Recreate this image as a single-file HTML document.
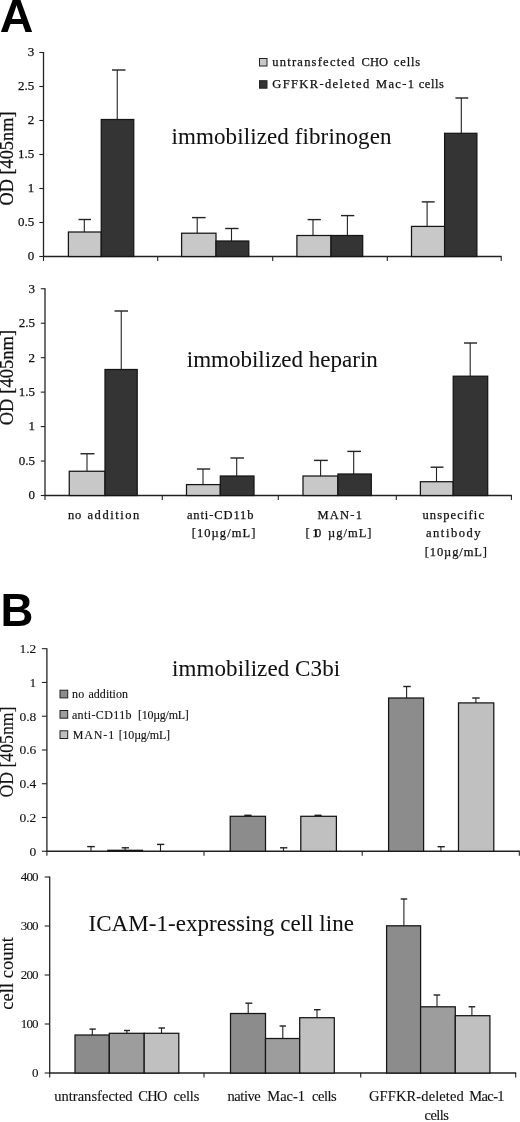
<!DOCTYPE html>
<html><head><meta charset="utf-8"><title>Figure</title>
<style>html,body{margin:0;padding:0;background:#fff}svg{display:block;filter:grayscale(1)}</style></head>
<body>
<svg width="520" height="1122" viewBox="0 0 520 1122">
<rect width="520" height="1122" fill="#fff"/>
<text x="-0.20" y="31.70" font-family='"Liberation Sans", sans-serif' font-size="46.5" font-weight="bold" text-anchor="start" fill="#000" stroke="#000" stroke-width="0">A</text>
<text x="0.50" y="626.00" font-family='"Liberation Sans", sans-serif' font-size="45.5" font-weight="bold" text-anchor="start" fill="#000" stroke="#000" stroke-width="0">B</text>
<line x1="43.50" y1="52.00" x2="43.50" y2="257.00" stroke="#222" stroke-width="1.3"/>
<line x1="43.00" y1="256.50" x2="501.70" y2="256.50" stroke="#222" stroke-width="1.3"/>
<line x1="39.30" y1="52.50" x2="43.50" y2="52.50" stroke="#222" stroke-width="1.1"/>
<text x="34.20" y="56.40" font-family='"Liberation Serif", serif' font-size="13" font-weight="normal" text-anchor="end" fill="#111" stroke="#111" stroke-width="0.25">3</text>
<line x1="39.30" y1="86.50" x2="43.50" y2="86.50" stroke="#222" stroke-width="1.1"/>
<text x="34.20" y="90.40" font-family='"Liberation Serif", serif' font-size="13" font-weight="normal" text-anchor="end" fill="#111" stroke="#111" stroke-width="0.25">2.5</text>
<line x1="39.30" y1="120.50" x2="43.50" y2="120.50" stroke="#222" stroke-width="1.1"/>
<text x="34.20" y="124.40" font-family='"Liberation Serif", serif' font-size="13" font-weight="normal" text-anchor="end" fill="#111" stroke="#111" stroke-width="0.25">2</text>
<line x1="39.30" y1="154.50" x2="43.50" y2="154.50" stroke="#222" stroke-width="1.1"/>
<text x="34.20" y="158.40" font-family='"Liberation Serif", serif' font-size="13" font-weight="normal" text-anchor="end" fill="#111" stroke="#111" stroke-width="0.25">1.5</text>
<line x1="39.30" y1="188.50" x2="43.50" y2="188.50" stroke="#222" stroke-width="1.1"/>
<text x="34.20" y="192.40" font-family='"Liberation Serif", serif' font-size="13" font-weight="normal" text-anchor="end" fill="#111" stroke="#111" stroke-width="0.25">1</text>
<line x1="39.30" y1="222.50" x2="43.50" y2="222.50" stroke="#222" stroke-width="1.1"/>
<text x="34.20" y="226.40" font-family='"Liberation Serif", serif' font-size="13" font-weight="normal" text-anchor="end" fill="#111" stroke="#111" stroke-width="0.25">0.5</text>
<line x1="39.30" y1="256.50" x2="43.50" y2="256.50" stroke="#222" stroke-width="1.1"/>
<text x="34.20" y="260.40" font-family='"Liberation Serif", serif' font-size="13" font-weight="normal" text-anchor="end" fill="#111" stroke="#111" stroke-width="0.25">0</text>
<line x1="43.50" y1="256.50" x2="43.50" y2="261.00" stroke="#222" stroke-width="1.1"/>
<line x1="157.70" y1="256.50" x2="157.70" y2="261.00" stroke="#222" stroke-width="1.1"/>
<line x1="272.70" y1="256.50" x2="272.70" y2="261.00" stroke="#222" stroke-width="1.1"/>
<line x1="387.30" y1="256.50" x2="387.30" y2="261.00" stroke="#222" stroke-width="1.1"/>
<line x1="501.20" y1="256.50" x2="501.20" y2="261.00" stroke="#222" stroke-width="1.1"/>
<line x1="84.30" y1="219.50" x2="84.30" y2="232.00" stroke="#222" stroke-width="1.1"/>
<line x1="78.50" y1="219.50" x2="91.00" y2="219.50" stroke="#222" stroke-width="1.4"/>
<rect x="68.40" y="232.00" width="32.85" height="24.50" fill="#c8c8c8" stroke="#151515" stroke-width="1.25"/>
<line x1="117.25" y1="70.00" x2="117.25" y2="119.50" stroke="#222" stroke-width="1.1"/>
<line x1="112.00" y1="70.00" x2="125.50" y2="70.00" stroke="#222" stroke-width="1.4"/>
<rect x="101.25" y="119.50" width="32.50" height="137.00" fill="#343434" stroke="#151515" stroke-width="1.25"/>
<line x1="197.20" y1="217.60" x2="197.20" y2="233.20" stroke="#222" stroke-width="1.1"/>
<line x1="192.00" y1="217.60" x2="205.60" y2="217.60" stroke="#222" stroke-width="1.4"/>
<rect x="181.60" y="233.20" width="34.40" height="23.30" fill="#c8c8c8" stroke="#151515" stroke-width="1.25"/>
<line x1="231.50" y1="228.50" x2="231.50" y2="241.00" stroke="#222" stroke-width="1.1"/>
<line x1="225.20" y1="228.50" x2="238.50" y2="228.50" stroke="#222" stroke-width="1.4"/>
<rect x="216.00" y="241.00" width="32.80" height="15.50" fill="#343434" stroke="#151515" stroke-width="1.25"/>
<line x1="313.00" y1="219.60" x2="313.00" y2="235.50" stroke="#222" stroke-width="1.1"/>
<line x1="307.60" y1="219.60" x2="320.90" y2="219.60" stroke="#222" stroke-width="1.4"/>
<rect x="296.90" y="235.50" width="34.10" height="21.00" fill="#c8c8c8" stroke="#151515" stroke-width="1.25"/>
<line x1="347.40" y1="215.60" x2="347.40" y2="235.50" stroke="#222" stroke-width="1.1"/>
<line x1="341.00" y1="215.60" x2="354.30" y2="215.60" stroke="#222" stroke-width="1.4"/>
<rect x="331.00" y="235.50" width="31.70" height="21.00" fill="#343434" stroke="#151515" stroke-width="1.25"/>
<line x1="427.10" y1="201.90" x2="427.10" y2="226.40" stroke="#222" stroke-width="1.1"/>
<line x1="421.70" y1="201.90" x2="434.70" y2="201.90" stroke="#222" stroke-width="1.4"/>
<rect x="411.50" y="226.40" width="33.10" height="30.10" fill="#c8c8c8" stroke="#151515" stroke-width="1.25"/>
<line x1="461.30" y1="98.00" x2="461.30" y2="133.30" stroke="#222" stroke-width="1.1"/>
<line x1="455.40" y1="98.00" x2="468.30" y2="98.00" stroke="#222" stroke-width="1.4"/>
<rect x="444.60" y="133.30" width="32.30" height="123.20" fill="#343434" stroke="#151515" stroke-width="1.25"/>
<text x="171.50" y="143.50" font-family='"Liberation Serif", serif' font-size="23" font-weight="normal" text-anchor="start" fill="#111" stroke="#111" stroke-width="0.05" textLength="220.0" lengthAdjust="spacing">immobilized fibrinogen</text>
<rect x="259.5" y="58.5" width="7.5" height="7.5" fill="#c8c8c8" stroke="#222" stroke-width="1"/>
<rect x="259.5" y="80.7" width="7.5" height="7.5" fill="#343434" stroke="#222" stroke-width="1"/>
<text x="272.30" y="65.90" font-family='"Liberation Serif", serif' font-size="12.5" font-weight="normal" text-anchor="start" fill="#111" stroke="#111" stroke-width="0.25" textLength="82.1" lengthAdjust="spacing">untransfected</text>
<text x="361.50" y="65.90" font-family='"Liberation Serif", serif' font-size="12.5" font-weight="normal" text-anchor="start" fill="#111" stroke="#111" stroke-width="0.25" textLength="26.5" lengthAdjust="spacing">CHO</text>
<text x="393.80" y="65.90" font-family='"Liberation Serif", serif' font-size="12.5" font-weight="normal" text-anchor="start" fill="#111" stroke="#111" stroke-width="0.25" textLength="26.4" lengthAdjust="spacing">cells</text>
<text x="272.30" y="87.70" font-family='"Liberation Serif", serif' font-size="12.5" font-weight="normal" text-anchor="start" fill="#111" stroke="#111" stroke-width="0.25" textLength="96.9" lengthAdjust="spacing">GFFKR-deleted</text>
<text x="376.00" y="87.70" font-family='"Liberation Serif", serif' font-size="12.5" font-weight="normal" text-anchor="start" fill="#111" stroke="#111" stroke-width="0.25" textLength="38.0" lengthAdjust="spacing">Mac-1</text>
<text x="418.80" y="87.70" font-family='"Liberation Serif", serif' font-size="12.5" font-weight="normal" text-anchor="start" fill="#111" stroke="#111" stroke-width="0.25" textLength="25.0" lengthAdjust="spacing">cells</text>
<text transform="translate(13.00,205.50) rotate(-90)" font-family='"Liberation Serif", serif' font-size="18.3" fill="#111" stroke="#111" stroke-width="0.25" textLength="94.0" lengthAdjust="spacing">OD [405nm]</text>
<line x1="45.00" y1="288.25" x2="45.00" y2="496.00" stroke="#222" stroke-width="1.3"/>
<line x1="44.50" y1="495.50" x2="511.90" y2="495.50" stroke="#222" stroke-width="1.3"/>
<line x1="40.80" y1="288.75" x2="45.00" y2="288.75" stroke="#222" stroke-width="1.1"/>
<text x="35.00" y="292.65" font-family='"Liberation Serif", serif' font-size="13" font-weight="normal" text-anchor="end" fill="#111" stroke="#111" stroke-width="0.25">3</text>
<line x1="40.80" y1="323.21" x2="45.00" y2="323.21" stroke="#222" stroke-width="1.1"/>
<text x="35.00" y="327.11" font-family='"Liberation Serif", serif' font-size="13" font-weight="normal" text-anchor="end" fill="#111" stroke="#111" stroke-width="0.25">2.5</text>
<line x1="40.80" y1="357.67" x2="45.00" y2="357.67" stroke="#222" stroke-width="1.1"/>
<text x="35.00" y="361.57" font-family='"Liberation Serif", serif' font-size="13" font-weight="normal" text-anchor="end" fill="#111" stroke="#111" stroke-width="0.25">2</text>
<line x1="40.80" y1="392.12" x2="45.00" y2="392.12" stroke="#222" stroke-width="1.1"/>
<text x="35.00" y="396.02" font-family='"Liberation Serif", serif' font-size="13" font-weight="normal" text-anchor="end" fill="#111" stroke="#111" stroke-width="0.25">1.5</text>
<line x1="40.80" y1="426.58" x2="45.00" y2="426.58" stroke="#222" stroke-width="1.1"/>
<text x="35.00" y="430.48" font-family='"Liberation Serif", serif' font-size="13" font-weight="normal" text-anchor="end" fill="#111" stroke="#111" stroke-width="0.25">1</text>
<line x1="40.80" y1="461.04" x2="45.00" y2="461.04" stroke="#222" stroke-width="1.1"/>
<text x="35.00" y="464.94" font-family='"Liberation Serif", serif' font-size="13" font-weight="normal" text-anchor="end" fill="#111" stroke="#111" stroke-width="0.25">0.5</text>
<line x1="40.80" y1="495.50" x2="45.00" y2="495.50" stroke="#222" stroke-width="1.1"/>
<text x="35.00" y="499.40" font-family='"Liberation Serif", serif' font-size="13" font-weight="normal" text-anchor="end" fill="#111" stroke="#111" stroke-width="0.25">0</text>
<line x1="45.00" y1="495.50" x2="45.00" y2="500.00" stroke="#222" stroke-width="1.1"/>
<line x1="162.30" y1="495.50" x2="162.30" y2="500.00" stroke="#222" stroke-width="1.1"/>
<line x1="278.30" y1="495.50" x2="278.30" y2="500.00" stroke="#222" stroke-width="1.1"/>
<line x1="396.30" y1="495.50" x2="396.30" y2="500.00" stroke="#222" stroke-width="1.1"/>
<line x1="511.40" y1="495.50" x2="511.40" y2="500.00" stroke="#222" stroke-width="1.1"/>
<line x1="87.00" y1="453.75" x2="87.00" y2="471.25" stroke="#222" stroke-width="1.1"/>
<line x1="80.50" y1="453.75" x2="94.50" y2="453.75" stroke="#222" stroke-width="1.4"/>
<rect x="69.25" y="471.25" width="35.75" height="24.25" fill="#c8c8c8" stroke="#151515" stroke-width="1.25"/>
<line x1="121.25" y1="311.00" x2="121.25" y2="369.50" stroke="#222" stroke-width="1.1"/>
<line x1="114.50" y1="311.00" x2="128.00" y2="311.00" stroke="#222" stroke-width="1.4"/>
<rect x="105.00" y="369.50" width="32.20" height="126.00" fill="#343434" stroke="#151515" stroke-width="1.25"/>
<line x1="203.00" y1="469.00" x2="203.00" y2="484.60" stroke="#222" stroke-width="1.1"/>
<line x1="196.90" y1="469.00" x2="210.20" y2="469.00" stroke="#222" stroke-width="1.4"/>
<rect x="186.50" y="484.60" width="33.80" height="10.90" fill="#c8c8c8" stroke="#151515" stroke-width="1.25"/>
<line x1="236.70" y1="458.00" x2="236.70" y2="476.00" stroke="#222" stroke-width="1.1"/>
<line x1="230.40" y1="458.00" x2="244.00" y2="458.00" stroke="#222" stroke-width="1.4"/>
<rect x="220.30" y="476.00" width="33.70" height="19.50" fill="#343434" stroke="#151515" stroke-width="1.25"/>
<line x1="320.60" y1="460.40" x2="320.60" y2="476.00" stroke="#222" stroke-width="1.1"/>
<line x1="314.00" y1="460.40" x2="327.80" y2="460.40" stroke="#222" stroke-width="1.4"/>
<rect x="303.00" y="476.00" width="34.90" height="19.50" fill="#c8c8c8" stroke="#151515" stroke-width="1.25"/>
<line x1="353.70" y1="451.40" x2="353.70" y2="474.00" stroke="#222" stroke-width="1.1"/>
<line x1="347.40" y1="451.40" x2="361.00" y2="451.40" stroke="#222" stroke-width="1.4"/>
<rect x="337.90" y="474.00" width="33.40" height="21.50" fill="#343434" stroke="#151515" stroke-width="1.25"/>
<line x1="436.50" y1="467.20" x2="436.50" y2="481.70" stroke="#222" stroke-width="1.1"/>
<line x1="430.60" y1="467.20" x2="443.50" y2="467.20" stroke="#222" stroke-width="1.4"/>
<rect x="420.40" y="481.70" width="32.80" height="13.80" fill="#c8c8c8" stroke="#151515" stroke-width="1.25"/>
<line x1="470.20" y1="343.00" x2="470.20" y2="376.20" stroke="#222" stroke-width="1.1"/>
<line x1="464.00" y1="343.00" x2="477.00" y2="343.00" stroke="#222" stroke-width="1.4"/>
<rect x="453.20" y="376.20" width="34.50" height="119.30" fill="#343434" stroke="#151515" stroke-width="1.25"/>
<text x="186.80" y="366.50" font-family='"Liberation Serif", serif' font-size="23" font-weight="normal" text-anchor="start" fill="#111" stroke="#111" stroke-width="0.05" textLength="191.0" lengthAdjust="spacing">immobilized heparin</text>
<text transform="translate(13.40,425.30) rotate(-90)" font-family='"Liberation Serif", serif' font-size="18.5" fill="#111" stroke="#111" stroke-width="0.25" textLength="95.5" lengthAdjust="spacing">OD [405nm]</text>
<text x="68.00" y="518.90" font-family='"Liberation Serif", serif' font-size="12.5" font-weight="normal" text-anchor="start" fill="#111" stroke="#111" stroke-width="0.25" textLength="13.2" lengthAdjust="spacing">no</text>
<text x="87.50" y="518.90" font-family='"Liberation Serif", serif' font-size="12.5" font-weight="normal" text-anchor="start" fill="#111" stroke="#111" stroke-width="0.25" textLength="51.8" lengthAdjust="spacing">addition</text>
<text x="186.90" y="518.90" font-family='"Liberation Serif", serif' font-size="12.5" font-weight="normal" text-anchor="start" fill="#111" stroke="#111" stroke-width="0.25" textLength="66.6" lengthAdjust="spacing">anti-CD11b</text>
<text x="191.80" y="537.40" font-family='"Liberation Serif", serif' font-size="12.5" font-weight="normal" text-anchor="start" fill="#111" stroke="#111" stroke-width="0.25" textLength="63.5" lengthAdjust="spacing">[10µg/mL]</text>
<text x="317.50" y="518.90" font-family='"Liberation Serif", serif' font-size="12.5" font-weight="normal" text-anchor="start" fill="#111" stroke="#111" stroke-width="0.25" textLength="44.5" lengthAdjust="spacing">MAN-1</text>
<text x="305.40" y="537.40" font-family='"Liberation Serif", serif' font-size="12.5" font-weight="normal" text-anchor="start" fill="#111" stroke="#111" stroke-width="0.25" textLength="4.3" lengthAdjust="spacing">[</text>
<text x="312.30" y="537.40" font-family='"Liberation Serif", serif' font-size="12.5" font-weight="normal" text-anchor="start" fill="#111" stroke="#111" stroke-width="0.25" textLength="8.9" lengthAdjust="spacing">10</text>
<text x="327.90" y="537.40" font-family='"Liberation Serif", serif' font-size="12.5" font-weight="normal" text-anchor="start" fill="#111" stroke="#111" stroke-width="0.25" textLength="43.6" lengthAdjust="spacing">µg/mL]</text>
<text x="422.50" y="518.90" font-family='"Liberation Serif", serif' font-size="12.5" font-weight="normal" text-anchor="start" fill="#111" stroke="#111" stroke-width="0.25" textLength="61.5" lengthAdjust="spacing">unspecific</text>
<text x="425.90" y="537.40" font-family='"Liberation Serif", serif' font-size="12.5" font-weight="normal" text-anchor="start" fill="#111" stroke="#111" stroke-width="0.25" textLength="54.7" lengthAdjust="spacing">antibody</text>
<text x="424.70" y="556.40" font-family='"Liberation Serif", serif' font-size="12.5" font-weight="normal" text-anchor="start" fill="#111" stroke="#111" stroke-width="0.25" textLength="62.3" lengthAdjust="spacing">[10µg/mL]</text>
<line x1="46.90" y1="648.20" x2="46.90" y2="851.75" stroke="#222" stroke-width="1.3"/>
<line x1="46.40" y1="851.25" x2="519.80" y2="851.25" stroke="#222" stroke-width="1.3"/>
<line x1="41.90" y1="648.70" x2="46.90" y2="648.70" stroke="#222" stroke-width="1.1"/>
<text x="36.30" y="653.20" font-family='"Liberation Serif", serif' font-size="13.5" font-weight="normal" text-anchor="end" fill="#111" stroke="#111" stroke-width="0.12">1.2</text>
<line x1="41.90" y1="682.46" x2="46.90" y2="682.46" stroke="#222" stroke-width="1.1"/>
<text x="36.30" y="686.96" font-family='"Liberation Serif", serif' font-size="13.5" font-weight="normal" text-anchor="end" fill="#111" stroke="#111" stroke-width="0.12">1</text>
<line x1="41.90" y1="716.22" x2="46.90" y2="716.22" stroke="#222" stroke-width="1.1"/>
<text x="36.30" y="720.72" font-family='"Liberation Serif", serif' font-size="13.5" font-weight="normal" text-anchor="end" fill="#111" stroke="#111" stroke-width="0.12">0.8</text>
<line x1="41.90" y1="749.98" x2="46.90" y2="749.98" stroke="#222" stroke-width="1.1"/>
<text x="36.30" y="754.48" font-family='"Liberation Serif", serif' font-size="13.5" font-weight="normal" text-anchor="end" fill="#111" stroke="#111" stroke-width="0.12">0.6</text>
<line x1="41.90" y1="783.73" x2="46.90" y2="783.73" stroke="#222" stroke-width="1.1"/>
<text x="36.30" y="788.23" font-family='"Liberation Serif", serif' font-size="13.5" font-weight="normal" text-anchor="end" fill="#111" stroke="#111" stroke-width="0.12">0.4</text>
<line x1="41.90" y1="817.49" x2="46.90" y2="817.49" stroke="#222" stroke-width="1.1"/>
<text x="36.30" y="821.99" font-family='"Liberation Serif", serif' font-size="13.5" font-weight="normal" text-anchor="end" fill="#111" stroke="#111" stroke-width="0.12">0.2</text>
<line x1="41.90" y1="851.25" x2="46.90" y2="851.25" stroke="#222" stroke-width="1.1"/>
<text x="36.30" y="855.75" font-family='"Liberation Serif", serif' font-size="13.5" font-weight="normal" text-anchor="end" fill="#111" stroke="#111" stroke-width="0.12">0</text>
<line x1="46.90" y1="851.25" x2="46.90" y2="855.75" stroke="#222" stroke-width="1.1"/>
<line x1="204.00" y1="851.25" x2="204.00" y2="855.75" stroke="#222" stroke-width="1.1"/>
<line x1="362.20" y1="851.25" x2="362.20" y2="855.75" stroke="#222" stroke-width="1.1"/>
<line x1="519.30" y1="851.25" x2="519.30" y2="855.75" stroke="#222" stroke-width="1.1"/>
<line x1="91.00" y1="846.60" x2="91.00" y2="851.25" stroke="#222" stroke-width="1.1"/>
<line x1="87.20" y1="846.60" x2="94.80" y2="846.60" stroke="#222" stroke-width="1.4"/>
<line x1="125.10" y1="847.80" x2="125.10" y2="850.30" stroke="#222" stroke-width="1.1"/>
<line x1="121.70" y1="847.80" x2="129.00" y2="847.80" stroke="#222" stroke-width="1.4"/>
<rect x="107.80" y="850.30" width="34.70" height="0.95" fill="#9d9d9d" stroke="#151515" stroke-width="1.25"/>
<line x1="160.50" y1="844.40" x2="160.50" y2="851.25" stroke="#222" stroke-width="1.1"/>
<line x1="157.00" y1="844.40" x2="164.30" y2="844.40" stroke="#222" stroke-width="1.4"/>
<line x1="247.80" y1="815.30" x2="247.80" y2="816.30" stroke="#222" stroke-width="1.1"/>
<line x1="244.30" y1="815.30" x2="251.60" y2="815.30" stroke="#222" stroke-width="1.4"/>
<rect x="230.20" y="816.30" width="35.30" height="34.95" fill="#8c8c8c" stroke="#151515" stroke-width="1.25"/>
<line x1="283.50" y1="847.80" x2="283.50" y2="851.25" stroke="#222" stroke-width="1.1"/>
<line x1="280.00" y1="847.80" x2="287.30" y2="847.80" stroke="#222" stroke-width="1.4"/>
<line x1="318.00" y1="815.30" x2="318.00" y2="816.30" stroke="#222" stroke-width="1.1"/>
<line x1="314.50" y1="815.30" x2="321.60" y2="815.30" stroke="#222" stroke-width="1.4"/>
<rect x="300.80" y="816.30" width="35.60" height="34.95" fill="#c0c0c0" stroke="#151515" stroke-width="1.25"/>
<line x1="406.60" y1="686.50" x2="406.60" y2="698.00" stroke="#222" stroke-width="1.1"/>
<line x1="403.30" y1="686.50" x2="410.80" y2="686.50" stroke="#222" stroke-width="1.4"/>
<rect x="388.60" y="698.00" width="35.00" height="153.25" fill="#8c8c8c" stroke="#151515" stroke-width="1.25"/>
<line x1="440.90" y1="846.70" x2="440.90" y2="851.25" stroke="#222" stroke-width="1.1"/>
<line x1="437.60" y1="846.70" x2="444.80" y2="846.70" stroke="#222" stroke-width="1.4"/>
<line x1="475.90" y1="698.00" x2="475.90" y2="702.90" stroke="#222" stroke-width="1.1"/>
<line x1="472.20" y1="698.00" x2="479.70" y2="698.00" stroke="#222" stroke-width="1.4"/>
<rect x="458.50" y="702.90" width="35.30" height="148.35" fill="#c0c0c0" stroke="#151515" stroke-width="1.25"/>
<text x="172.10" y="675.70" font-family='"Liberation Serif", serif' font-size="23" font-weight="normal" text-anchor="start" fill="#111" stroke="#111" stroke-width="0.05" textLength="168.0" lengthAdjust="spacing">immobilized C3bi</text>
<rect x="60" y="690.2" width="7.7" height="7.7" fill="#8c8c8c" stroke="#222" stroke-width="1"/>
<text x="71.90" y="698.10" font-family='"Liberation Serif", serif' font-size="12" font-weight="normal" text-anchor="start" fill="#111" stroke="#111" stroke-width="0.12" textLength="12.3" lengthAdjust="spacing">no</text>
<text x="88.50" y="698.10" font-family='"Liberation Serif", serif' font-size="12" font-weight="normal" text-anchor="start" fill="#111" stroke="#111" stroke-width="0.12" textLength="39.5" lengthAdjust="spacing">addition</text>
<rect x="60" y="710.5" width="7.7" height="7.7" fill="#9d9d9d" stroke="#222" stroke-width="1"/>
<text x="71.90" y="718.60" font-family='"Liberation Serif", serif' font-size="12" font-weight="normal" text-anchor="start" fill="#111" stroke="#111" stroke-width="0.12" textLength="59.7" lengthAdjust="spacing">anti-CD11b</text>
<text x="138.00" y="718.60" font-family='"Liberation Serif", serif' font-size="12" font-weight="normal" text-anchor="start" fill="#111" stroke="#111" stroke-width="0.12" textLength="50.8" lengthAdjust="spacing">[10µg/mL]</text>
<rect x="60" y="730.8000000000001" width="7.7" height="7.7" fill="#c0c0c0" stroke="#222" stroke-width="1"/>
<text x="72.70" y="739.00" font-family='"Liberation Serif", serif' font-size="12" font-weight="normal" text-anchor="start" fill="#111" stroke="#111" stroke-width="0.12" textLength="41.5" lengthAdjust="spacing">MAN-1</text>
<text x="118.80" y="739.00" font-family='"Liberation Serif", serif' font-size="12" font-weight="normal" text-anchor="start" fill="#111" stroke="#111" stroke-width="0.12" textLength="51.2" lengthAdjust="spacing">[10µg/mL]</text>
<text transform="translate(13.40,797.50) rotate(-90)" font-family='"Liberation Serif", serif' font-size="17.8" fill="#111" stroke="#111" stroke-width="0.12" textLength="91.0" lengthAdjust="spacing">OD [405nm]</text>
<line x1="49.70" y1="876.50" x2="49.70" y2="1073.50" stroke="#222" stroke-width="1.3"/>
<line x1="49.20" y1="1073.00" x2="516.20" y2="1073.00" stroke="#222" stroke-width="1.3"/>
<line x1="44.70" y1="877.00" x2="49.70" y2="877.00" stroke="#222" stroke-width="1.1"/>
<text x="20.70" y="881.30" font-family='"Liberation Serif", serif' font-size="13" font-weight="normal" text-anchor="start" fill="#111" stroke="#111" stroke-width="0.12" textLength="17.9" lengthAdjust="spacing">400</text>
<line x1="44.70" y1="926.00" x2="49.70" y2="926.00" stroke="#222" stroke-width="1.1"/>
<text x="20.70" y="930.30" font-family='"Liberation Serif", serif' font-size="13" font-weight="normal" text-anchor="start" fill="#111" stroke="#111" stroke-width="0.12" textLength="17.9" lengthAdjust="spacing">300</text>
<line x1="44.70" y1="975.00" x2="49.70" y2="975.00" stroke="#222" stroke-width="1.1"/>
<text x="20.70" y="979.30" font-family='"Liberation Serif", serif' font-size="13" font-weight="normal" text-anchor="start" fill="#111" stroke="#111" stroke-width="0.12" textLength="17.9" lengthAdjust="spacing">200</text>
<line x1="44.70" y1="1024.00" x2="49.70" y2="1024.00" stroke="#222" stroke-width="1.1"/>
<text x="20.70" y="1028.30" font-family='"Liberation Serif", serif' font-size="13" font-weight="normal" text-anchor="start" fill="#111" stroke="#111" stroke-width="0.12" textLength="17.9" lengthAdjust="spacing">100</text>
<line x1="44.70" y1="1073.00" x2="49.70" y2="1073.00" stroke="#222" stroke-width="1.1"/>
<text x="38.60" y="1077.30" font-family='"Liberation Serif", serif' font-size="13" font-weight="normal" text-anchor="end" fill="#111" stroke="#111" stroke-width="0.12">0</text>
<line x1="49.70" y1="1073.00" x2="49.70" y2="1077.50" stroke="#222" stroke-width="1.1"/>
<line x1="204.00" y1="1073.00" x2="204.00" y2="1077.50" stroke="#222" stroke-width="1.1"/>
<line x1="360.70" y1="1073.00" x2="360.70" y2="1077.50" stroke="#222" stroke-width="1.1"/>
<line x1="515.70" y1="1073.00" x2="515.70" y2="1077.50" stroke="#222" stroke-width="1.1"/>
<line x1="92.30" y1="1029.10" x2="92.30" y2="1035.00" stroke="#222" stroke-width="1.1"/>
<line x1="89.50" y1="1029.10" x2="95.80" y2="1029.10" stroke="#222" stroke-width="1.4"/>
<rect x="75.00" y="1035.00" width="34.30" height="38.00" fill="#8c8c8c" stroke="#151515" stroke-width="1.25"/>
<line x1="126.90" y1="1030.50" x2="126.90" y2="1033.30" stroke="#222" stroke-width="1.1"/>
<line x1="124.00" y1="1030.50" x2="130.00" y2="1030.50" stroke="#222" stroke-width="1.4"/>
<rect x="109.30" y="1033.30" width="34.90" height="39.70" fill="#9d9d9d" stroke="#151515" stroke-width="1.25"/>
<line x1="161.50" y1="1028.00" x2="161.50" y2="1033.30" stroke="#222" stroke-width="1.1"/>
<line x1="158.50" y1="1028.00" x2="165.00" y2="1028.00" stroke="#222" stroke-width="1.4"/>
<rect x="144.20" y="1033.30" width="34.60" height="39.70" fill="#c0c0c0" stroke="#151515" stroke-width="1.25"/>
<line x1="248.20" y1="1003.20" x2="248.20" y2="1013.50" stroke="#222" stroke-width="1.1"/>
<line x1="245.40" y1="1003.20" x2="252.30" y2="1003.20" stroke="#222" stroke-width="1.4"/>
<rect x="230.50" y="1013.50" width="35.00" height="59.50" fill="#8c8c8c" stroke="#151515" stroke-width="1.25"/>
<line x1="282.80" y1="1026.00" x2="282.80" y2="1038.50" stroke="#222" stroke-width="1.1"/>
<line x1="279.60" y1="1026.00" x2="286.00" y2="1026.00" stroke="#222" stroke-width="1.4"/>
<rect x="265.50" y="1038.50" width="34.20" height="34.50" fill="#9d9d9d" stroke="#151515" stroke-width="1.25"/>
<line x1="317.00" y1="1009.70" x2="317.00" y2="1017.70" stroke="#222" stroke-width="1.1"/>
<line x1="314.00" y1="1009.70" x2="320.60" y2="1009.70" stroke="#222" stroke-width="1.4"/>
<rect x="299.70" y="1017.70" width="34.60" height="55.30" fill="#c0c0c0" stroke="#151515" stroke-width="1.25"/>
<line x1="403.90" y1="899.00" x2="403.90" y2="925.80" stroke="#222" stroke-width="1.1"/>
<line x1="400.70" y1="899.00" x2="407.20" y2="899.00" stroke="#222" stroke-width="1.4"/>
<rect x="386.60" y="925.80" width="34.00" height="147.20" fill="#8c8c8c" stroke="#151515" stroke-width="1.25"/>
<line x1="437.00" y1="995.00" x2="437.00" y2="1006.80" stroke="#222" stroke-width="1.1"/>
<line x1="433.60" y1="995.00" x2="440.20" y2="995.00" stroke="#222" stroke-width="1.4"/>
<rect x="420.60" y="1006.80" width="34.70" height="66.20" fill="#9d9d9d" stroke="#151515" stroke-width="1.25"/>
<line x1="471.90" y1="1006.80" x2="471.90" y2="1015.70" stroke="#222" stroke-width="1.1"/>
<line x1="468.60" y1="1006.80" x2="475.20" y2="1006.80" stroke="#222" stroke-width="1.4"/>
<rect x="455.30" y="1015.70" width="34.60" height="57.30" fill="#c0c0c0" stroke="#151515" stroke-width="1.25"/>
<text x="88.50" y="930.60" font-family='"Liberation Serif", serif' font-size="23" font-weight="normal" text-anchor="start" fill="#111" stroke="#111" stroke-width="0.05" textLength="265.4" lengthAdjust="spacing">ICAM-1-expressing cell line</text>
<text transform="translate(13.40,1009.70) rotate(-90)" font-family='"Liberation Serif", serif' font-size="18.6" fill="#111" stroke="#111" stroke-width="0.12" textLength="72.7" lengthAdjust="spacing">cell count</text>
<text x="54.20" y="1101.30" font-family='"Liberation Serif", serif' font-size="14.5" font-weight="normal" text-anchor="start" fill="#111" stroke="#111" stroke-width="0.12" textLength="78.4" lengthAdjust="spacing">untransfected</text>
<text x="138.20" y="1101.30" font-family='"Liberation Serif", serif' font-size="14.5" font-weight="normal" text-anchor="start" fill="#111" stroke="#111" stroke-width="0.12" textLength="29.4" lengthAdjust="spacing">CHO</text>
<text x="173.50" y="1101.30" font-family='"Liberation Serif", serif' font-size="14.5" font-weight="normal" text-anchor="start" fill="#111" stroke="#111" stroke-width="0.12" textLength="25.8" lengthAdjust="spacing">cells</text>
<text x="227.40" y="1101.30" font-family='"Liberation Serif", serif' font-size="14.5" font-weight="normal" text-anchor="start" fill="#111" stroke="#111" stroke-width="0.12" textLength="33.4" lengthAdjust="spacing">native</text>
<text x="267.30" y="1101.30" font-family='"Liberation Serif", serif' font-size="14.5" font-weight="normal" text-anchor="start" fill="#111" stroke="#111" stroke-width="0.12" textLength="37.6" lengthAdjust="spacing">Mac-1</text>
<text x="312.10" y="1101.30" font-family='"Liberation Serif", serif' font-size="14.5" font-weight="normal" text-anchor="start" fill="#111" stroke="#111" stroke-width="0.12" textLength="24.5" lengthAdjust="spacing">cells</text>
<text x="369.00" y="1101.30" font-family='"Liberation Serif", serif' font-size="14.5" font-weight="normal" text-anchor="start" fill="#111" stroke="#111" stroke-width="0.12" textLength="94.8" lengthAdjust="spacing">GFFKR-deleted</text>
<text x="469.30" y="1101.30" font-family='"Liberation Serif", serif' font-size="14.5" font-weight="normal" text-anchor="start" fill="#111" stroke="#111" stroke-width="0.12" textLength="35.3" lengthAdjust="spacing">Mac-1</text>
<text x="424.50" y="1120.00" font-family='"Liberation Serif", serif' font-size="14.5" font-weight="normal" text-anchor="start" fill="#111" stroke="#111" stroke-width="0.12" textLength="24.5" lengthAdjust="spacing">cells</text>
</svg>
</body></html>
